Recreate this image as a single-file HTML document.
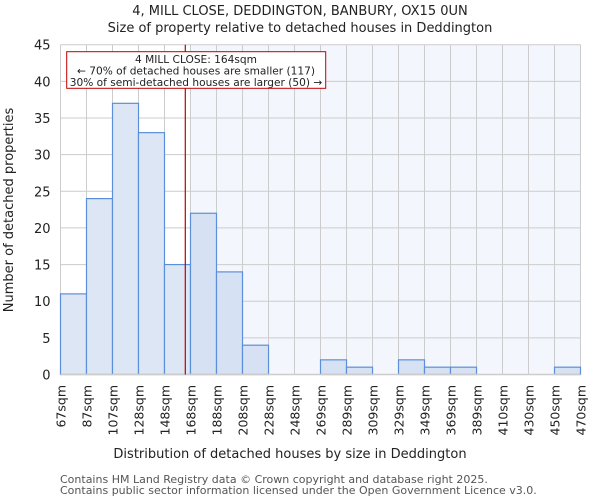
<!DOCTYPE html>
<html><head><meta charset="utf-8"><style>
body{margin:0;background:#fff;font-family:"DejaVu Sans","Liberation Sans",sans-serif;}
</style></head><body>
<svg width="600" height="500" xmlns="http://www.w3.org/2000/svg" font-family="DejaVu Sans, Liberation Sans, sans-serif">
<text x="300" y="15" text-anchor="middle" font-size="13" fill="#222">4, MILL CLOSE, DEDDINGTON, BANBURY, OX15 0UN</text>
<text x="300" y="32" text-anchor="middle" font-size="13" fill="#222">Size of property relative to detached houses in Deddington</text>
<g id="plot"></g>
<text x="290" y="458" text-anchor="middle" font-size="13" fill="#222">Distribution of detached houses by size in Deddington</text>
<text transform="translate(13,210) rotate(-90)" text-anchor="middle" font-size="13" fill="#222">Number of detached properties</text>
<text x="60" y="483" font-size="11" fill="#555">Contains HM Land Registry data © Crown copyright and database right 2025.</text>
<text x="60" y="494" font-size="11" fill="#555">Contains public sector information licensed under the Open Government Licence v3.0.</text>
</svg>
<script>
const categories=["67sqm","87sqm","107sqm","128sqm","148sqm","168sqm","188sqm","208sqm","228sqm","248sqm","269sqm","289sqm","309sqm","329sqm","349sqm","369sqm","389sqm","410sqm","430sqm","450sqm","470sqm"];
const counts=[11,24,37,33,15,22,14,4,0,0,2,1,0,2,1,1,0,0,0,1];
const yTicks=[0,5,10,15,20,25,30,35,40,45];
const propertySize=164;
const edgeValues=[67,87,107,128,148,168,188,208,228,248,269,289,309,329,349,369,389,410,430,450,470];
const highlightStartBin=5;

const NS="http://www.w3.org/2000/svg";
const g=document.getElementById('plot');
const L=60.5,R=580.5,T=44.7,B=374.5,yMax=45;
const bw=(R-L)/counts.length;
const x=i=>L+i*bw;
const y=v=>B-(v/yMax)*(B-T);
function mk(t,a){const e=document.createElementNS(NS,t);for(const k in a)e.setAttribute(k,a[k]);g.appendChild(e);return e;}
function xVal(v){for(let i=0;i<edgeValues.length-1;i++){if(v>=edgeValues[i]&&v<=edgeValues[i+1])return x(i)+(v-edgeValues[i])/(edgeValues[i+1]-edgeValues[i])*bw;}return R;}

let e=mk('rect',{x:x(highlightStartBin),y:T,width:R-x(highlightStartBin),height:B-T,fill:'#f3f6fd'});


yTicks.forEach(t=>{
 let l=mk('line',{x1:L,x2:R,y1:y(t),y2:y(t),stroke:'#cccccc','stroke-width':1});
 
 
 let tx=mk('text',{x:L-10,y:y(t)+5,'text-anchor':'end','font-size':13,fill:'#222'});
 tx.textContent=t;
 
 
});
categories.forEach((c,i)=>{
 let l=mk('line',{x1:x(i),x2:x(i),y1:T,y2:B,stroke:'#cccccc','stroke-width':1});
 
 
 let tx=mk('text',{transform:`translate(${x(i)+5},385) rotate(-90)`,'text-anchor':'end','font-size':12.5,fill:'#222'});
 tx.textContent=c;
 
 
});
counts.forEach((v,i)=>{
 if(v<=0)return;
 let r=mk('rect',{x:x(i),y:y(v),width:bw,height:B-y(v),fill:i>=highlightStartBin?'#d6e2f3':'#dde6f4',stroke:'#5b8fd9','stroke-width':1.2});
 
 
});
e=mk('line',{x1:L,x2:R,y1:B,y2:B,stroke:'#cccccc','stroke-width':1.5});


const px=xVal(propertySize);
e=mk('line',{x1:px,x2:px,y1:T,y2:B,stroke:'#c00000','stroke-width':1.2});


e=mk('rect',{x:66.7,y:51.7,width:259,height:36.6,fill:'#fff',stroke:'#c00000','stroke-width':1});


["4 MILL CLOSE: 164sqm","← 70% of detached houses are smaller (117)","30% of semi-detached houses are larger (50) →"].forEach((s,i)=>{
 let t=mk('text',{x:196,y:63+i*11.5,'text-anchor':'middle','font-size':10.6,fill:'#222'});
 t.textContent=s;
 
 
});
</script>
</body></html>
